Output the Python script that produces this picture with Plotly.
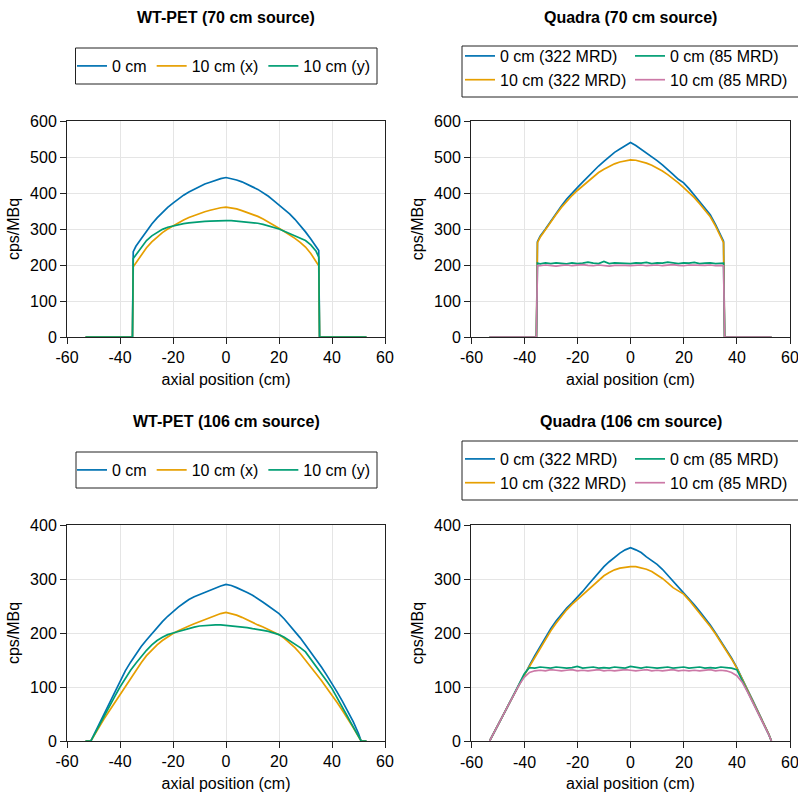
import plotly.graph_objects as go

# ---------------- data ----------------
x_ticks = [-60, -40, -20, 0, 20, 40, 60]
x_tick_text = ["-60", "-40", "-20", "0", "20", "40", "60"]
y_ticks_70 = [0, 100, 200, 300, 400, 500, 600]
y_ticks_106 = [0, 100, 200, 300, 400]
x_title = "axial position (cm)"
y_title = "cps/MBq"

# WT-PET, 70 cm source
wt70_x = [-53, -35.3, -35, -34, -32, -30, -28, -26, -24, -22, -20, -18, -16, -14, -12, -10, -8, -6, -4, -2,
          0, 2, 4, 6, 8, 10, 12, 14, 16, 18, 20, 22, 24, 26, 28, 30, 32, 34, 35, 35.3, 53]
wt70_0cm = [0, 0, 237, 252, 273, 294, 314, 331, 346, 360, 372, 384, 394, 403, 411, 418, 425, 430, 436, 440,
            443, 440, 436, 431, 425, 417, 410, 401, 391, 379, 367, 355, 342, 327, 311, 292, 272, 250, 240, 0, 0]
wt70_10x = [0, 0, 195, 205, 228, 248, 264, 278, 290, 300, 309, 317, 325, 332, 338, 343, 348, 352, 356, 359,
            361, 359, 356, 351, 346, 341, 335, 328, 320, 311, 302, 293, 284, 274, 263, 250, 232, 210, 198, 0, 0]
wt70_10y = [0, 0, 218, 228, 250, 268, 281, 291, 299, 305, 309, 312, 315, 317, 319, 320, 321, 322, 323, 323,
            323, 323, 322, 321, 320, 319, 316, 313, 309, 305, 300, 294, 288, 281, 275, 268, 256, 238, 222, 0, 0]

# Quadra, 70 cm source
q70_x = [-53, -35.4, -35, -34, -32, -30, -28, -26, -24, -22, -20, -18, -16, -14, -12, -10, -8, -6, -4, -2,
         0, 2, 4, 6, 8, 10, 12, 14, 16, 18, 20, 22, 24, 26, 28, 30, 32, 34, 35, 35.4, 53]
q70_0cm_322 = [0, 0, 265, 280, 300, 322, 343, 364, 383, 400, 415, 430, 446, 460, 475, 488, 500, 513, 522, 532,
               540, 532, 522, 512, 500, 490, 478, 466, 452, 438, 428, 412, 394, 376, 357, 340, 312, 282, 266, 0, 0]
q70_10cm_322 = [0, 0, 262, 277, 298, 320, 340, 360, 378, 393, 407, 420, 433, 446, 457, 466, 474, 481, 486, 490,
                492, 491, 488, 483, 477, 470, 461, 451, 440, 428, 415, 402, 387, 370, 352, 334, 308, 278, 262, 0, 0]
q70_0cm_85 = [0, 0, 205, 203, 206, 204, 206, 205, 203, 206, 204, 205, 208, 205, 204, 210, 204, 206, 205, 203,
              204, 206, 205, 207, 204, 206, 205, 208, 205, 204, 206, 205, 207, 204, 205, 206, 204, 205, 205, 0, 0]
q70_10cm_85 = [0, 0, 199, 198, 200, 199, 197, 199, 200, 198, 199, 201, 199, 198, 200, 199, 197, 199, 200, 199,
               198, 199, 200, 198, 199, 200, 198, 199, 201, 199, 198, 200, 199, 198, 199, 200, 198, 199, 198, 0, 0]

# WT-PET, 106 cm source
wt106_x = [-53, -51, -50, -48, -46, -44, -42, -40, -38, -36, -34, -32, -30, -28, -26, -24, -22, -20, -18, -16,
           -14, -12, -10, -8, -6, -4, -2, 0, 2, 4, 6, 8, 10, 12, 14, 16, 18, 20, 22, 24, 26, 28, 30, 32, 34, 36,
           38, 40, 42, 44, 46, 48, 50, 51, 53]
wt106_0cm = [0, 0, 10, 30, 52, 73, 93, 112, 130, 146, 161, 175, 187, 199, 210, 221, 231, 240, 248, 255,
             262, 267, 271, 276, 280, 284, 287, 290, 288, 284, 280, 275, 270, 264, 257, 250, 243, 236, 226, 215,
             203, 191, 178, 165, 151, 137, 122, 107, 90, 73, 55, 36, 14, 0, 0]
wt106_10x = [0, 0, 8, 25, 41, 56, 71, 86, 101, 116, 131, 145, 158, 169, 178, 186, 193, 199, 204, 209,
             213, 217, 221, 225, 229, 233, 236, 238, 236, 233, 229, 224, 219, 215, 211, 206, 202, 197, 190, 182,
             173, 162, 150, 138, 125, 112, 98, 85, 71, 56, 41, 25, 8, 0, 0]
wt106_10y = [0, 0, 9, 28, 46, 64, 82, 100, 116, 131, 144, 157, 168, 178, 186, 192, 197, 200, 203, 206,
             209, 211, 213, 214, 214, 215, 215, 214, 214, 213, 212, 210, 208, 207, 205, 203, 200, 197, 192, 186,
             180, 173, 165, 152, 139, 125, 111, 97, 80, 62, 44, 26, 8, 0, 0]

# Quadra, 106 cm source
q106_x = [-53, -52, -50, -48, -46, -44, -42, -40, -38, -36, -34, -32, -30, -28, -26, -24, -22, -20, -18, -16,
          -14, -12, -10, -8, -6, -4, -2, 0, 2, 4, 6, 8, 10, 12, 14, 16, 18, 20, 22, 24, 26, 28, 30, 32, 34, 36,
          38, 40, 42, 44, 46, 48, 50, 52, 53]
q106_0cm_322 = [0, 9, 28, 47, 66, 85, 104, 124, 140, 158, 175, 192, 208, 222, 235, 246, 256, 266, 277, 289,
                301, 312, 323, 332, 340, 348, 354, 358, 354, 349, 341, 334, 327, 318, 307, 297, 287, 276, 264, 252,
                240, 228, 215, 200, 185, 170, 154, 136, 114, 95, 75, 55, 35, 13, 0]
q106_10cm_322 = [0, 9, 28, 47, 66, 85, 104, 122, 138, 155, 172, 188, 204, 218, 231, 243, 253, 262, 271, 280,
                 289, 298, 306, 312, 317, 320, 322, 323, 323, 321, 318, 314, 308, 301, 293, 284, 278, 272, 261, 249,
                 237, 225, 212, 198, 183, 168, 152, 135, 113, 94, 74, 54, 35, 13, 0]
q106_0cm_85 = [0, 9, 28, 47, 66, 85, 104, 124, 136, 135, 137, 136, 135, 137, 136, 135, 136, 138, 135, 136,
               137, 135, 136, 135, 137, 136, 135, 138, 136, 135, 137, 136, 135, 136, 137, 135, 136, 137, 135, 136,
               137, 135, 136, 135, 137, 136, 135, 132, 112, 93, 74, 54, 34, 12, 0]
q106_10cm_85 = [0, 9, 28, 47, 66, 85, 103, 118, 127, 130, 131, 130, 132, 131, 130, 131, 132, 130, 131, 130,
                131, 132, 130, 131, 130, 131, 132, 131, 130, 131, 132, 130, 131, 130, 131, 132, 130, 131, 130, 131,
                130, 131, 132, 130, 131, 130, 127, 121, 109, 91, 72, 53, 33, 12, 0]

# ---------------- layout helpers ----------------
W, H = 806, 795
ML, MR, MT, MB = 67, 16, 121, 54
PW = W - ML - MR
PH = H - MT - MB


def pxx(px):
    return (px - ML) / PW


def pxy(py):
    return (H - MB - py) / PH


BLUE, ORANGE, GREEN, PINK = "#0072B2", "#E69F00", "#009E73", "#CC79A7"
FONT = "Liberation Sans, Arial, Helvetica, sans-serif"
LW = 1.7

fig = go.Figure()


def add(x, y, name, color, xa, ya, legend):
    fig.add_trace(go.Scatter(x=x, y=y, mode="lines", name=name,
                             line=dict(color=color, width=LW),
                             xaxis=xa, yaxis=ya, legend=legend))


add(wt70_x, wt70_0cm, "0 cm", BLUE, "x", "y", "legend")
add(wt70_x, wt70_10x, "10 cm (x)", ORANGE, "x", "y", "legend")
add(wt70_x, wt70_10y, "10 cm (y)", GREEN, "x", "y", "legend")

add(q70_x, q70_0cm_322, "0 cm (322 MRD)", BLUE, "x2", "y2", "legend2")
add(q70_x, q70_10cm_322, "10 cm (322 MRD)", ORANGE, "x2", "y2", "legend2")
add(q70_x, q70_0cm_85, "0 cm (85 MRD)", GREEN, "x2", "y2", "legend3")
add(q70_x, q70_10cm_85, "10 cm (85 MRD)", PINK, "x2", "y2", "legend3")

add(wt106_x, wt106_0cm, "0 cm", BLUE, "x3", "y3", "legend4")
add(wt106_x, wt106_10x, "10 cm (x)", ORANGE, "x3", "y3", "legend4")
add(wt106_x, wt106_10y, "10 cm (y)", GREEN, "x3", "y3", "legend4")

add(q106_x, q106_0cm_322, "0 cm (322 MRD)", BLUE, "x4", "y4", "legend5")
add(q106_x, q106_10cm_322, "10 cm (322 MRD)", ORANGE, "x4", "y4", "legend5")
add(q106_x, q106_0cm_85, "0 cm (85 MRD)", GREEN, "x4", "y4", "legend6")
add(q106_x, q106_10cm_85, "10 cm (85 MRD)", PINK, "x4", "y4", "legend6")

AX = "#222222"
GRID = "#e5e5e5"


def xaxis(domain, anchor, labels=True):
    d = dict(domain=domain, anchor=anchor, range=[-60, 60], tickmode="array",
             tickvals=x_ticks, ticktext=x_tick_text, showgrid=True, gridcolor=GRID,
             gridwidth=1, zeroline=False, showline=True, linecolor=AX, linewidth=1,
             mirror=True, ticks="outside", ticklen=6, tickcolor=AX,
             tickfont=dict(size=16, color="#000"), layer="below traces", showticklabels=labels)
    if labels:
        d["title"] = dict(text=x_title, font=dict(size=16, color="#000"), standoff=8)
    return d


def yaxis(domain, anchor, ticks, top):
    return dict(domain=domain, anchor=anchor, range=[0, top], tickmode="array",
                tickvals=ticks, showgrid=True, gridcolor=GRID, gridwidth=1, zeroline=False,
                showline=True, linecolor=AX, linewidth=1, mirror=True, ticks="outside",
                ticklen=6, tickcolor=AX, tickfont=dict(size=16, color="#000"), layer="below traces",
                title=dict(text=y_title, font=dict(size=16, color="#000"), standoff=6))


c1 = [0, pxx(385)]
c2 = [pxx(471), 1]
r1 = [pxy(337), 1]
r2 = [0, pxy(525)]

leg_common = dict(font=dict(size=16, color="#000", family=FONT), bgcolor="rgba(0,0,0,0)",
                  borderwidth=0, itemwidth=30, tracegroupgap=0)

fig.update_layout(
    width=W, height=H, margin=dict(l=ML, r=MR, t=MT, b=MB, autoexpand=False),
    paper_bgcolor="white", plot_bgcolor="white",
    font=dict(family=FONT, size=16, color="#000"),
    xaxis=xaxis(c1, "y"), yaxis=yaxis(r1, "x", y_ticks_70, 600),
    xaxis2=xaxis(c2, "y2", labels=False), yaxis2=yaxis(r1, "x2", y_ticks_70, 600),
    xaxis3=xaxis(c1, "y3"), yaxis3=yaxis(r2, "x3", y_ticks_106, 400),
    xaxis4=xaxis(c2, "y4", labels=False), yaxis4=yaxis(r2, "x4", y_ticks_106, 400),
    legend=dict(orientation="h", x=pxx(72), xanchor="left", y=pxy(66), yanchor="middle", **leg_common),
    legend2=dict(orientation="v", x=pxx(460), xanchor="left", y=pxy(68), yanchor="middle", **leg_common),
    legend3=dict(orientation="v", x=pxx(630), xanchor="left", y=pxy(68), yanchor="middle", **leg_common),
    legend4=dict(orientation="h", x=pxx(72), xanchor="left", y=pxy(470), yanchor="middle", **leg_common),
    legend5=dict(orientation="v", x=pxx(460), xanchor="left", y=pxy(471), yanchor="middle", **leg_common),
    legend6=dict(orientation="v", x=pxx(630), xanchor="left", y=pxy(471), yanchor="middle", **leg_common),
    showlegend=True,
)

titles = [("WT-PET (70 cm source)", (c1[0] + c1[1]) / 2, 17),
          ("Quadra (70 cm source)", (c2[0] + c2[1]) / 2, 17),
          ("WT-PET (106 cm source)", (c1[0] + c1[1]) / 2, 421),
          ("Quadra (106 cm source)", (c2[0] + c2[1]) / 2, 421)]
for text, xc, ypx in titles:
    fig.add_annotation(text="<b>" + text + "</b>", x=xc, y=pxy(ypx), xref="paper", yref="paper",
                       xanchor="center", yanchor="middle", showarrow=False,
                       font=dict(size=16, color="#000", family=FONT))

# right-column x axes: plotly drops the edge tick label there, so the tick labels
# and the axis title are written as text at the axis' own tick positions
for xref, ylab, ytit in (("x2", 357, 379), ("x4", 762, 783)):
    for v, t in zip(x_ticks, x_tick_text):
        fig.add_annotation(text=t, x=v, xref=xref, y=pxy(ylab), yref="paper",
                           xanchor="center", yanchor="middle", showarrow=False,
                           font=dict(size=16, color="#000", family=FONT))
    fig.add_annotation(text=x_title, x=0, xref=xref, y=pxy(ytit), yref="paper",
                       xanchor="center", yanchor="middle", showarrow=False,
                       font=dict(size=16, color="#000", family=FONT))

boxes = [(75.5, 48, 377, 84), (462, 46, 805, 97), (76, 452, 377, 488), (462, 441, 805, 500)]
for x0, y0, x1, y1 in boxes:
    fig.add_shape(type="rect", xref="paper", yref="paper", x0=pxx(x0), x1=pxx(x1),
                  y0=pxy(y1), y1=pxy(y0), line=dict(color=AX, width=1), fillcolor="rgba(0,0,0,0)")

fig.write_html("out.html", config={"displayModeBar": False},
               post_script="document.body.style.margin='0';document.body.style.padding='0';"
                           "document.body.style.overflow='hidden';"
                           "document.documentElement.style.overflow='hidden';")
